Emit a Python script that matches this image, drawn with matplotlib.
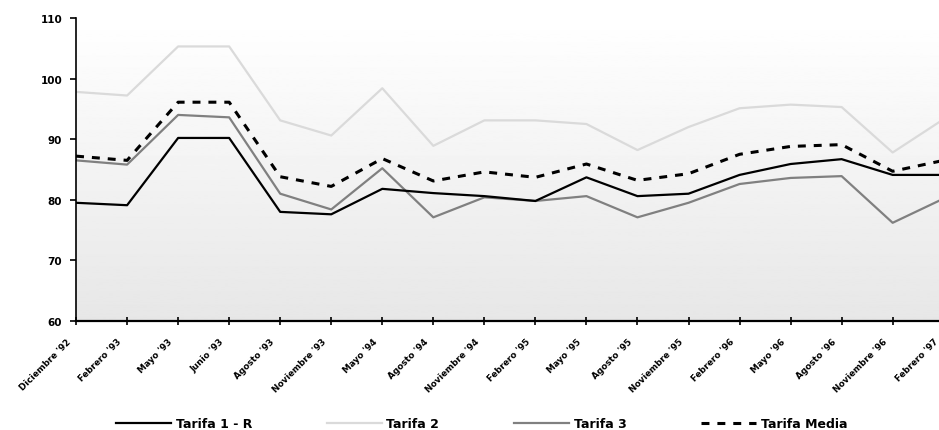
import numpy as np
import matplotlib
matplotlib.use("Agg")
import matplotlib.pyplot as plt
import matplotlib.transforms as mtransforms

# data
meses = ["Diciembre '92", "Febrero '93", "Mayo '93", "Junio '93", "Agosto '93",
         "Noviembre '93", "Mayo '94", "Agosto '94", "Noviembre '94", "Febrero '95",
         "Mayo '95", "Agosto '95", "Noviembre '95", "Febrero '96", "Mayo '96",
         "Agosto '96", "Noviembre '96", "Febrero '97"]
tarifa_1r = [79.5, 79.1, 90.2, 90.2, 78.0, 77.6, 81.8, 81.1, 80.6, 79.8,
             83.7, 80.6, 81.0, 84.1, 85.9, 86.7, 84.1, 84.1]
tarifa_2 = [97.8, 97.2, 105.3, 105.3, 93.1, 90.6, 98.4, 88.9, 93.1, 93.1,
            92.5, 88.2, 92.0, 95.1, 95.7, 95.3, 87.8, 93.3]
tarifa_3 = [86.5, 85.8, 94.0, 93.6, 81.0, 78.4, 85.2, 77.1, 80.4, 79.8,
            80.6, 77.1, 79.5, 82.6, 83.6, 83.9, 76.2, 80.2]
tarifa_media = [87.2, 86.5, 96.1, 96.1, 83.8, 82.2, 86.8, 83.1, 84.6, 83.7,
                85.9, 83.2, 84.3, 87.5, 88.8, 89.1, 84.7, 86.5]

plt.rcParams['font.family'] = ['DejaVu Sans']

fig = plt.figure(figsize=(9.39, 4.31), dpi=100)
# last month sits just past the right edge of the picture
ax = fig.add_axes([0.081, 0.253, 0.924, 0.703])

x = np.arange(len(meses))

# gradient background
grad = np.linspace(1.0, 0.905, 256).reshape(-1, 1)
ax.imshow(grad, cmap="gray", vmin=0, vmax=1, aspect="auto",
          extent=[0, 1, 0, 1], transform=ax.transAxes, zorder=0)

ax.plot(x, tarifa_1r, color="black", lw=1.6, label="Tarifa 1 - R", zorder=3)
ax.plot(x, tarifa_2, color="#dadada", lw=1.6, label="Tarifa 2", zorder=2)
ax.plot(x, tarifa_3, color="#808080", lw=1.6, label="Tarifa 3", zorder=2)
ax.plot(x, tarifa_media, color="black", lw=2.2, ls=(0, (2.6, 2.6)),
        label="Tarifa Media", zorder=4)

ax.set_xlim(0, 17)
ax.set_ylim(60, 110)
ax.set_yticks([60, 70, 80, 90, 100, 110])
ax.set_yticklabels(["60", "70", "80", "90", "100", "110"],
                   fontsize=7.5, fontweight="bold")
ax.set_xticks(x)
ax.set_xticklabels(meses, rotation=45, ha="right", rotation_mode="anchor",
                   fontsize=6.3, fontweight="bold")
ax.tick_params(axis="x", direction="inout", length=6, width=1.2, pad=6)
ax.tick_params(axis="y", direction="out", length=4, width=1.2, pad=6)

# nudge month labels left of their ticks like the original
shift = mtransforms.ScaledTranslation(-10 / 100, -3 / 100, fig.dpi_scale_trans)
for lbl in ax.get_xticklabels():
    lbl.set_transform(lbl.get_transform() + shift)

for s in ["top", "right"]:
    ax.spines[s].set_visible(False)
ax.spines["left"].set_linewidth(1.2)
ax.spines["bottom"].set_linewidth(1.6)

fig.legend(loc="lower center", bbox_to_anchor=(0.513, -0.026), ncol=4,
           frameon=False, handlelength=4.4, handletextpad=0.35,
           columnspacing=6.0, prop={"size": 9, "weight": "bold"})

fig.savefig("out.png", dpi=100)
